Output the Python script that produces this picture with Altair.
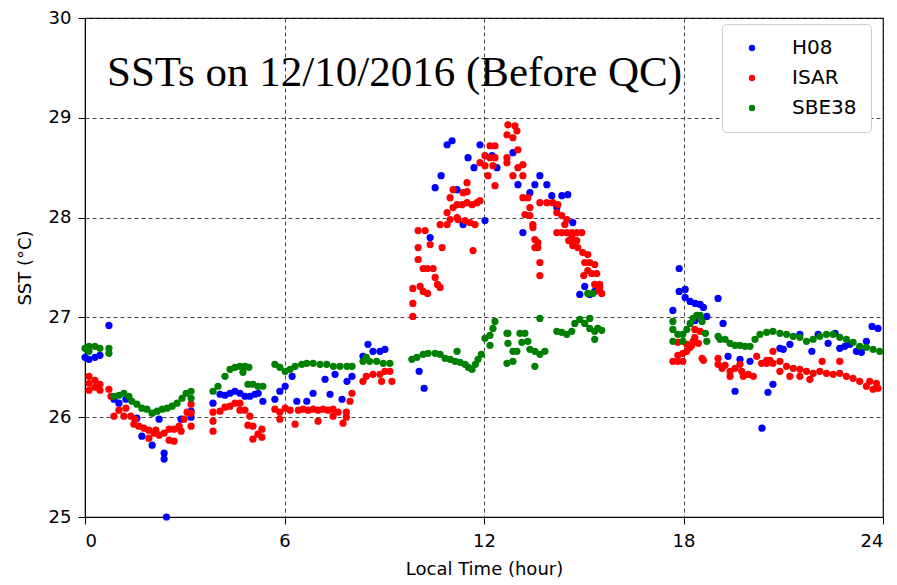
import altair as alt
import pandas as pd

# ---- data ----
h08_t = [0.0, 0.12, 0.3, 0.45, 0.72, 0.87, 1.02, 1.23, 1.56, 1.71, 2.02, 2.23, 2.38, 2.38, 2.45, 2.89, 3.19, 3.19,
         3.85, 4.06, 4.21, 4.36, 4.51, 4.66, 4.81, 4.96, 5.11, 5.21, 5.35, 5.71, 5.86, 6.02, 6.23, 6.37, 6.67, 6.86,
         7.22, 7.37, 7.52, 7.73, 7.88, 8.03, 8.36, 8.51, 8.66, 8.87, 9.02, 10.05, 10.2, 10.38, 10.53, 10.71, 10.89,
         11.04, 11.19, 11.37, 11.52, 11.7, 11.88, 12.03, 12.24, 12.39, 12.87, 13.02, 13.17, 13.38, 13.53, 13.68,
         13.89, 14.04, 14.19, 14.34, 14.52, 14.67, 14.88, 15.03, 15.18, 15.33, 17.68, 17.87, 17.87, 18.05, 18.05,
         18.2, 18.35, 18.35, 18.5, 18.6, 18.7, 19.04, 19.19, 19.34, 19.55, 19.7, 20.0, 20.36, 20.54, 20.69, 20.9,
         21.0, 21.2, 21.5, 21.86, 22.05, 22.35, 22.56, 22.7, 22.85, 23.0, 23.2, 23.35, 23.5, 23.67, 23.85]
h08_v = [26.60, 26.58, 26.60, 26.62, 26.92, 26.18, 26.14, 26.18, 25.99, 25.81, 25.72, 25.98, 25.64, 25.58, 25.0,
         25.98, 26.06, 26.0, 26.14, 26.23, 26.22, 26.24, 26.26, 26.24, 26.21, 26.21, 26.23, 26.24, 26.16, 26.18,
         26.26, 26.31, 26.41, 26.16, 26.16, 26.24, 26.38, 26.23, 26.43, 26.18, 26.36, 26.41, 26.61, 26.73, 26.66,
         26.66, 26.68, 26.46, 26.29, 27.8, 28.3, 28.42, 28.73, 28.77, 28.28, 27.93, 28.6, 28.5, 28.73, 27.97, 28.62,
         28.5, 28.65, 28.33, 27.85, 28.25, 28.33, 28.42, 28.33, 28.22, 28.1, 28.22, 28.23, 27.95, 27.23, 27.31,
         27.23, 27.26, 27.07, 27.49, 27.26, 27.28, 27.2, 27.16, 27.14, 26.97, 27.13, 27.1, 27.01, 27.19, 26.94,
         26.61, 26.26, 26.58, 26.56, 25.89, 26.25, 26.33, 26.69, 26.68, 26.73, 26.83, 26.66, 26.83, 26.74, 26.84,
         26.69, 26.71, 26.73, 26.66, 26.65, 26.76, 26.91, 26.89]

isar_t = [0.12, 0.12, 0.3, 0.3, 0.45, 0.45, 0.12, 0.72, 0.78, 0.87, 1.02, 1.17, 1.23, 1.38, 1.5, 1.47, 1.62, 1.77,
          1.92, 2.08, 2.23, 2.38, 2.53, 2.53, 2.68, 2.68, 2.83, 2.89, 2.98, 3.07, 3.19, 3.19, 3.19, 2.13, 1.92,
          3.85, 3.85, 3.85, 4.06, 4.21, 4.36, 4.51, 4.66, 4.66, 4.81, 4.96, 4.9, 5.05, 5.05, 5.2, 5.32, 5.32,
          5.71, 5.86, 5.86, 6.02, 6.17, 6.32, 6.42, 6.56, 6.71, 6.86, 7.01, 7.01, 7.16, 7.31, 7.46, 7.46, 7.61,
          7.76, 7.86, 7.86, 7.97, 8.03, 8.36, 8.46, 8.66, 8.87, 9.02, 9.17, 9.23, 8.92,
          9.86, 9.86, 9.86, 10.08, 10.17, 10.3, 10.17, 10.3, 10.47, 10.53, 10.6, 10.68, 10.38, 10.02, 10.02, 10.02,
          10.23, 10.74, 10.68, 10.89, 10.89, 10.98, 11.07, 11.19, 11.34, 11.49, 11.64, 11.79, 11.88, 11.07, 11.19,
          11.49, 11.49, 11.37, 10.98, 11.22, 11.43, 11.58, 11.73, 11.67, 11.88, 12.03, 12.18, 12.33, 12.12, 12.33,
          12.27, 12.03, 12.33, 12.18,
          12.72, 12.93, 12.69, 12.99, 12.87, 13.02, 12.69, 12.69, 13.02, 13.17, 13.17, 12.87, 13.17, 13.32, 13.38,
          13.38, 13.23, 13.47, 13.47, 13.53, 13.62, 13.53, 13.62, 13.68, 13.68, 13.68, 13.89, 14.07, 14.22, 14.19,
          14.34, 14.49, 14.43, 14.19, 14.34, 14.49, 14.64, 14.79, 14.64, 14.79, 14.55, 14.67, 14.82, 14.67, 14.94,
          14.97, 15.12, 15.03, 15.18, 15.33, 15.12, 15.24, 15.39, 15.0, 15.33, 15.48, 15.45, 15.54, 15.48,
          17.68, 17.83, 17.98, 17.83, 17.98, 18.1, 18.2, 18.25, 18.29, 18.34, 18.34, 18.5, 18.45, 18.56, 18.6,
          17.83, 18.1, 19.04, 19.04, 19.16, 19.25, 19.4, 19.4, 19.55, 19.7, 19.75, 19.8, 19.95, 20.1, 20.2, 20.35,
          20.5, 20.69, 20.69, 20.9, 20.5, 21.1, 21.3, 21.5, 21.7, 21.9, 22.17, 22.1, 22.3, 22.5, 22.7, 22.7, 22.9,
          23.1, 23.3, 23.5, 23.7, 23.85, 23.6, 23.8, 21.2, 21.5, 21.8, 20.9, 20.6]
isar_v = [26.41, 26.34, 26.37, 26.3, 26.33, 26.27, 26.27, 26.28, 26.21, 26.01, 26.07, 26.01, 26.09, 26.01, 25.98,
          25.93, 25.91, 25.89, 25.87, 25.84, 25.82, 25.84, 25.88, 25.77, 25.76, 25.88, 25.91, 25.86, 25.98, 26.05,
          26.13, 26.04, 25.91, 25.87, 25.79,
          25.86, 25.96, 26.05, 26.06, 26.1, 26.11, 26.14, 26.14, 26.07, 26.07, 26.01, 25.92, 25.91, 25.78, 25.83,
          25.88, 25.8, 26.08, 26.05, 25.98, 26.09, 26.07, 25.93, 26.07, 26.08, 26.07, 26.08, 26.07, 25.96, 26.08,
          26.07, 26.08, 26.01, 26.05, 25.94, 26.05, 26.0, 26.16, 26.24, 26.36, 26.41, 26.43, 26.43, 26.46, 26.46,
          26.36, 26.36,
          27.01, 27.14, 27.29, 27.31, 27.26, 27.24, 27.49, 27.49, 27.49, 27.4, 27.33, 27.3, 27.73, 27.7, 27.58,
          27.87, 27.87, 27.7, 27.93, 27.93, 28.05, 28.2, 28.28, 28.13, 28.13, 28.15, 28.13, 28.15, 28.17, 28.1,
          28.0, 28.35, 28.26, 28.25, 27.98, 27.98, 27.97, 27.95, 27.93, 27.67, 28.55, 28.62, 28.72, 28.72, 28.42,
          28.32, 28.52, 28.52, 28.6, 28.6,
          28.93, 28.92, 28.83, 28.87, 28.8, 28.68, 28.6, 28.55, 28.5, 28.53, 28.42, 28.42, 28.2, 28.2, 28.1, 28.02,
          28.03, 27.93, 27.9, 27.78, 27.75, 27.7, 27.7, 27.55, 27.42, 28.15, 28.15, 28.15, 28.13, 28.05, 28.02,
          27.98, 27.93, 27.85, 27.85, 27.85, 27.85, 27.85, 27.8, 27.77, 27.77, 27.72, 27.7, 27.77, 27.85, 27.65,
          27.63, 27.55, 27.55, 27.53, 27.47, 27.44, 27.44, 27.42, 27.33, 27.33, 27.27, 27.24, 27.3,
          26.56, 26.56, 26.56, 26.62, 26.64, 26.66, 26.7, 26.72, 26.76, 26.8, 26.88, 26.86, 26.74, 26.59, 26.57,
          26.75, 26.73, 26.59, 26.53, 26.49, 26.52, 26.46, 26.41, 26.49, 26.53, 26.46, 26.41, 26.43, 26.41, 26.61,
          26.54, 26.57, 26.66, 26.54, 26.56, 26.54, 26.51, 26.49, 26.48, 26.46, 26.44, 26.56, 26.46, 26.44, 26.43,
          26.44, 26.56, 26.41, 26.39, 26.36, 26.31, 26.28, 26.29, 26.36, 26.34, 26.41, 26.41, 26.38, 26.46, 26.57]

sbe_t = [0.0, 0.12, 0.3, 0.45, 0.12, 0.72, 0.72, 0.87, 1.02, 1.17, 1.32, 1.41, 1.56, 1.71, 1.86, 2.02, 2.17, 2.32,
         2.47, 2.62, 2.77, 2.92, 3.04, 3.19, 3.19, 3.85, 4.0, 4.21, 4.36, 4.51, 4.66, 4.81, 4.93, 4.75, 4.9, 5.05,
         5.2, 5.35, 5.71, 5.86, 6.02, 6.17, 6.32, 6.52, 6.67, 6.86, 7.07, 7.27, 7.47, 7.67, 7.88, 8.03, 8.36, 8.56,
         8.77, 8.97, 9.17, 8.46,
         9.83, 9.98, 10.17, 10.32, 10.53, 10.68, 10.83, 10.98, 11.13, 11.19, 11.28, 11.43, 11.53, 11.64, 11.74,
         11.82, 11.92, 12.03, 12.18, 12.33, 12.27, 12.18, 12.72, 12.72, 12.87, 12.87, 12.69, 12.69, 13.08, 13.23,
         13.32, 13.14, 12.99, 13.38, 13.53, 13.53, 13.68, 13.83, 13.68, 14.19, 14.34, 14.49, 14.64, 14.73, 14.88,
         15.03, 15.18, 15.18, 15.33, 15.42, 15.33, 15.54, 15.12, 15.27,
         17.68, 17.68, 17.68, 17.83, 17.98, 17.98, 18.1, 18.2, 18.29, 18.4, 18.5, 18.56, 18.66, 18.7, 19.04, 19.1,
         19.25, 19.4, 19.55, 19.7, 19.85, 20.0, 20.15, 20.3, 20.5, 20.69, 20.9, 21.1, 21.3, 21.5, 21.7, 21.9, 22.1,
         22.3, 22.5, 22.7, 22.9, 23.1, 23.3, 23.5, 23.7, 23.9]
sbe_v = [26.69, 26.71, 26.71, 26.69, 26.66, 26.69, 26.64, 26.21, 26.22, 26.24, 26.21, 26.16, 26.13, 26.09, 26.08,
         26.04, 26.06, 26.08, 26.09, 26.11, 26.14, 26.19, 26.24, 26.26, 26.19, 26.26, 26.31, 26.41, 26.48, 26.5,
         26.51, 26.51, 26.5, 26.45, 26.33, 26.33, 26.31, 26.31, 26.53, 26.5, 26.46, 26.48, 26.51, 26.53, 26.54,
         26.54, 26.53, 26.53, 26.51, 26.51, 26.51, 26.51, 26.56, 26.56, 26.56, 26.54, 26.54, 26.6,
         26.58, 26.6, 26.63, 26.64, 26.64, 26.63, 26.59, 26.58, 26.56, 26.66, 26.55, 26.53, 26.5, 26.48, 26.53,
         26.58, 26.63, 26.79, 26.82, 26.96, 26.89, 26.72, 26.84, 26.74, 26.66, 26.56, 26.84, 26.54, 26.84, 26.84,
         26.76, 26.75, 26.66, 26.68, 26.66, 26.51, 26.63, 26.66, 26.99, 26.86, 26.85, 26.83, 26.86, 26.94, 26.98,
         26.94, 26.99, 26.89, 26.86, 26.89, 26.78, 26.87, 27.24, 27.24,
         26.96, 26.88, 26.76, 26.83, 26.83, 26.76, 26.88, 26.94, 26.99, 27.02, 27.02, 26.96, 26.84, 26.76, 26.81,
         26.78, 26.78, 26.74, 26.72, 26.72, 26.71, 26.71, 26.78, 26.83, 26.85, 26.86, 26.84, 26.83, 26.81, 26.8,
         26.76, 26.78, 26.81, 26.83, 26.83, 26.8, 26.78, 26.75, 26.71, 26.7, 26.68, 26.66]

series_names = ["H08", "ISAR", "SBE38"]
series_colors = ["#0000ff", "#ff0000", "#008000"]
x_ticks = [0, 6, 12, 18, 24]
y_ticks = [25, 26, 27, 28, 29, 30]
title_text = "SSTs on 12/10/2016 (Before QC)"

rows = []
for name, ts, vs in [("H08", h08_t, h08_v), ("ISAR", isar_t, isar_v), ("SBE38", sbe_t, sbe_v)]:
    for t, v in zip(ts, vs):
        rows.append({"time": t, "sst": v, "sensor": name})
df = pd.DataFrame(rows)
df["order"] = range(len(df))

points = alt.Chart(df).mark_circle(size=52, opacity=1).encode(
    x=alt.X("time:Q", scale=alt.Scale(domain=[0, 24], nice=False),
            axis=alt.Axis(values=x_ticks, title="Local Time (hour)", format="d",
                          labelPadding=8, titlePadding=10)),
    y=alt.Y("sst:Q", scale=alt.Scale(domain=[25, 30], nice=False),
            axis=alt.Axis(values=y_ticks, title="SST (°C)", format="d",
                          labelPadding=7, titlePadding=14)),
    color=alt.Color("sensor:N", scale=alt.Scale(domain=series_names, range=series_colors),
                    legend=alt.Legend(title=None, orient="none", legendX=637, legendY=6,
                                      fillColor="white", strokeColor="#cccccc", cornerRadius=4,
                                      padding=14, symbolType="circle", symbolSize=40,
                                      symbolOffset=6, labelOffset=30, rowPadding=10,
                                      labelFont="DejaVu Sans", labelFontSize=20, labelColor="black")),
    order=alt.Order("order:Q"),
)

label = alt.Chart(pd.DataFrame({"t": [title_text]})).mark_text(
    font="Liberation Serif", fontSize=43, align="left", baseline="alphabetic", color="black"
).encode(x=alt.value(22), y=alt.value(68), text="t:N")

chart = alt.layer(points, label).properties(
    width=798, height=499,
    autosize=alt.AutoSizeParams(type="none"),
    padding={"left": 77, "top": 10, "right": 6, "bottom": 70},
).configure_view(
    stroke="black", strokeWidth=1.2
).configure_axis(
    labelFont="DejaVu Sans", labelFontSize=18, labelColor="black",
    titleFont="DejaVu Sans", titleFontSize=18, titleFontWeight="normal", titleColor="black",
    tickColor="black", tickSize=7, domainColor="black",
    gridColor="#333333", gridDash=[4, 3], gridWidth=0.9,
)

chart.save("out.html", embed_options={"renderer": "svg", "actions": False})
